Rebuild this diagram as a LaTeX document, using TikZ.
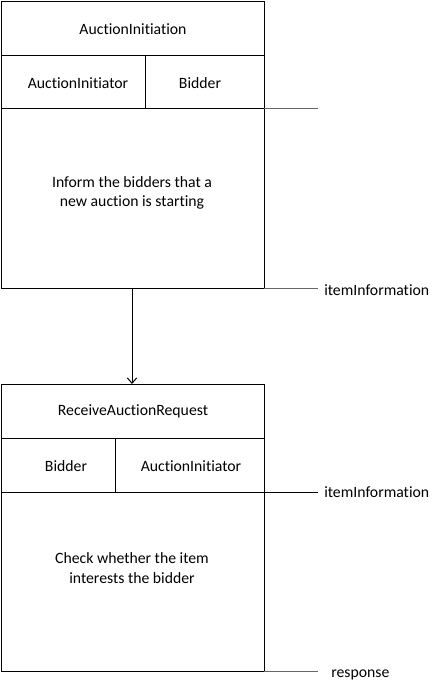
\documentclass[tikz,border=0pt]{standalone}
\usepackage{fontspec}
\setmainfont[Ligatures=NoCommon]{Carlito}
\usetikzlibrary{arrows.meta}
\begin{document}
\begin{tikzpicture}[x=0.75pt,y=-0.75pt,
  every node/.style={font=\fontsize{11.8}{14.5}\selectfont, inner sep=0pt},
  ln/.style={line width=0.75pt, draw=black},
  gln/.style={line width=0.75pt, draw=black!60},
  lbl/.style={anchor=base west, text=black}]
\useasboundingbox (0,0) rectangle (440,690);
% box 1
\draw[ln] (1,1) rectangle (264,288);
\draw[ln] (1,55) -- (264,55);
\draw[ln] (1,108) -- (264,108);
\draw[ln] (145,55) -- (145,108);
\node (t1) at (133,29) {AuctionInitiation};
\node (r11) at (78,83) {AuctionInitiator};
\node (r12) at (200,83) {Bidder};
\node[align=center] (b1) at (132,193) {Inform the bidders that a\\new auction is starting};
\coordinate (e1a) at (264,108);
\coordinate (e1b) at (318,108);
\draw[gln] (e1a) -- (e1b);
\coordinate (e1c) at (264,288);
\coordinate (e1d) at (318,288);
\draw[gln] (e1c) -- (e1d);
\node[lbl] (l1) at (324,295) {itemInformation};
% box 2
\draw[ln] (1,384) rectangle (264,671);
\draw[ln] (1,438) -- (264,438);
\draw[ln] (1,492) -- (264,492);
\draw[ln] (115,438) -- (115,492);
\node (t2) at (133,411) {ReceiveAuctionRequest};
\node (r21) at (66,466) {Bidder};
\node (r22) at (191,466) {AuctionInitiator};
\node[align=center] (b2) at (132,568) {Check whether the item\\interests the bidder};
\coordinate (e2a) at (264,492);
\coordinate (e2b) at (318,492);
\draw[ln] (e2a) -- (e2b);
\node[lbl] (l2) at (324,497) {itemInformation};
\coordinate (e2c) at (264,671);
\coordinate (e2d) at (318,671);
\draw[gln] (e2c) -- (e2d);
\node[lbl] (l3) at (331,677) {response};
% arrow
\coordinate (a1) at (132,288);
\coordinate (a2) at (132,384);
\draw[ln,-{Straight Barb[length=4pt,width=7pt]}] (a1) -- (a2);
\end{tikzpicture}
\end{document}
